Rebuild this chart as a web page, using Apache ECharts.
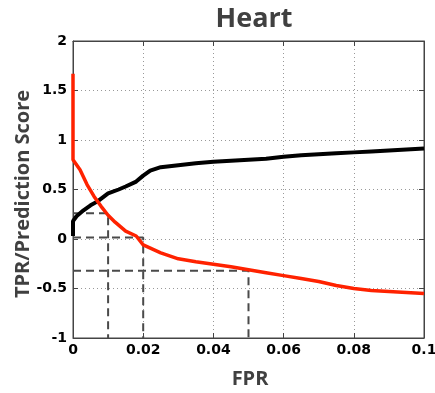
<!DOCTYPE html>
<html>
<head>
<meta charset="utf-8">
<script src="https://cdn.jsdelivr.net/npm/echarts@6/dist/echarts.min.js"></script>
<style>
html,body{margin:0;padding:0;background:#fff;}
#main{width:435px;height:393px;}
</style>
</head>
<body>
<div id="main"></div>
<script>
/* TPR 曲线 (黑) */
var tprX = [0, 0, 0.001, 0.003, 0.005, 0.007, 0.01, 0.013, 0.015, 0.018, 0.02, 0.022, 0.025, 0.03, 0.035, 0.04, 0.045, 0.05, 0.055, 0.06, 0.065, 0.07, 0.075, 0.08, 0.085, 0.09, 0.095, 0.1];
var tprY = [0.03, 0.18, 0.23, 0.29, 0.34, 0.38, 0.46, 0.5, 0.53, 0.58, 0.64, 0.69, 0.725, 0.745, 0.765, 0.78, 0.79, 0.80, 0.81, 0.83, 0.845, 0.855, 0.865, 0.875, 0.885, 0.895, 0.905, 0.913];
/* prediction score 曲线 (红) */
var scoreX = [0, 0, 0.0005, 0.002, 0.004, 0.006, 0.008, 0.01, 0.012, 0.015, 0.018, 0.02, 0.025, 0.03, 0.035, 0.04, 0.045, 0.05, 0.055, 0.06, 0.065, 0.07, 0.075, 0.08, 0.085, 0.09, 0.095, 0.1];
var scoreY = [1.67, 0.8, 0.78, 0.70, 0.55, 0.43, 0.33, 0.24, 0.17, 0.08, 0.03, -0.06, -0.14, -0.20, -0.23, -0.255, -0.28, -0.31, -0.34, -0.37, -0.40, -0.43, -0.47, -0.50, -0.52, -0.53, -0.54, -0.55];
/* 虚线标注: FPR 与对应分数 */
var markFpr = [0.01, 0.02, 0.05];
var markScore = [0.26, 0.015, -0.32];

function zip(xs, ys){
    var out = [];
    for(var i=0;i<xs.length;i++){ out.push([xs[i], ys[i]]); }
    return out;
}

var dashSeries = [];
for(var k=0;k<markFpr.length;k++){
    dashSeries.push({
        type:'line',
        data:[[0, markScore[k]], [markFpr[k], markScore[k]], [markFpr[k], -1]],
        symbol:'none',
        lineStyle:{color:'#4a4a4a', width:2, type:[8,5]},
        z:1
    });
}

var labelFont = {color:'#000', fontWeight:'bold', fontSize:14, fontFamily:'DejaVu Sans'};
var nameFontStr = 'bold 20px "Open Sans", "DejaVu Sans"';

var myChart = echarts.init(document.getElementById('main'));
var option = {
    animation:false,
    title:{
        text:'Heart', left:249, top:1, textAlign:'center',
        textStyle:{color:'#404040', fontWeight:'bold', fontSize:27, fontFamily:'Open Sans, DejaVu Sans'}
    },
    // 轴标题用 graphic 定位
    graphic:[
        {type:'text', x:23, y:194, rotation:Math.PI/2,
            style:{text:'TPR/Prediction Score', font:nameFontStr, fill:'#404040', align:'center', verticalAlign:'middle'}},
        {type:'text', x:250, y:379,
            style:{text:'FPR', font:nameFontStr, fill:'#404040', align:'center', verticalAlign:'middle'}}
    ],
    grid:{left:73, top:41, right:11, bottom:55, outerBoundsMode:'none', containLabel:false,
        show:true, borderColor:'#444', borderWidth:1, backgroundColor:'#fff'},
    xAxis:[{
        type:'value', min:0, max:0.1, interval:0.02,
        axisLine:{onZero:false, lineStyle:{color:'#444'}},
        axisTick:{inside:true, length:5, lineStyle:{color:'#444'}},
        axisLabel:Object.assign({margin:5}, labelFont),
        splitLine:{show:true, lineStyle:{color:'#999', type:[1,3]}}
    },{
        type:'value', position:'top', min:0, max:0.1, interval:0.02,
        axisLine:{onZero:false, lineStyle:{color:'#444'}},
        axisTick:{inside:true, length:5, lineStyle:{color:'#444'}},
        axisLabel:{show:false}, splitLine:{show:false}
    }],
    yAxis:[{
        type:'value', min:-1, max:2, interval:0.5,
        axisLine:{show:true, onZero:false, lineStyle:{color:'#444'}},
        axisTick:{show:true, inside:true, length:5, lineStyle:{color:'#444'}},
        axisLabel:Object.assign({margin:6}, labelFont),
        splitLine:{show:true, lineStyle:{color:'#999', type:[1,3]}}
    },{
        type:'value', position:'right', min:-1, max:2, interval:0.5,
        axisLine:{show:true, onZero:false, lineStyle:{color:'#444'}},
        axisTick:{show:true, inside:true, length:5, lineStyle:{color:'#444'}},
        axisLabel:{show:false}, splitLine:{show:false}
    }],
    series:dashSeries.concat([
        {type:'line', data:zip(tprX, tprY), symbol:'none', lineStyle:{color:'#000', width:4}, z:3},
        {type:'line', data:zip(scoreX, scoreY), symbol:'none', lineStyle:{color:'#ff2200', width:3.5}, z:4}
    ])
};
myChart.setOption(option);
</script>
</body>
</html>
